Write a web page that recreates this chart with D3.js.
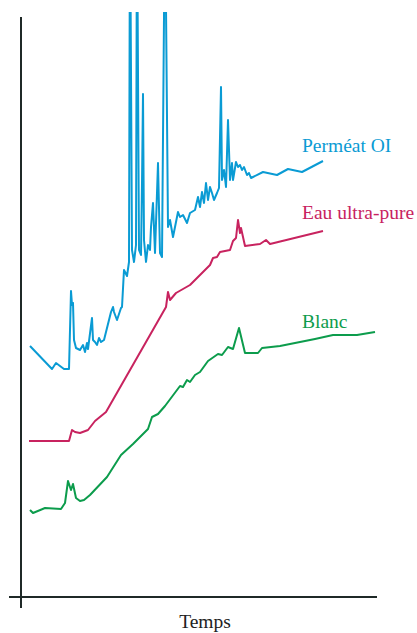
<!DOCTYPE html>
<html>
<head>
    <meta charset="utf-8">
    <script src="https://d3js.org/d3.v7.min.js"></script>
    <style>
        html, body { margin: 0; padding: 0; background: #fff; }
        svg { display: block; }
    </style>
</head>
<body>
    <script>
        const width = 417;
        const height = 633;

        // time (arbitrary units), signal (arbitrary units)
        const permeatOI = [
            [9, 251], [31, 228], [35, 234], [43, 228], [48, 228], [50, 306], [51, 292], [52, 294],
            [53, 257], [55, 249], [59, 247], [62, 252], [64, 245], [66, 254], [67, 248], [71, 279],
            [72, 257], [74, 255], [76, 252], [78, 259], [80, 255], [83, 257], [85, 265], [90, 285],
            [92, 290], [93, 285], [96, 277], [100, 289], [101, 290], [103, 327], [106, 321], [108, 335],
            [109, 700], [111, 347], [113, 335], [115, 352], [116, 700], [118, 347], [120, 342], [121, 414],
            [122, 503], [123, 357], [125, 335], [127, 352], [129, 347], [130, 370], [132, 394], [134, 344],
            [137, 434], [139, 344], [141, 340], [144, 700], [147, 370], [149, 377], [152, 360], [157, 385],
            [159, 380], [162, 382], [166, 374], [169, 384], [174, 387], [177, 400], [179, 390], [181, 405],
            [183, 394], [185, 414], [187, 397], [189, 410], [191, 404], [193, 397], [196, 404], [198, 409],
            [200, 510], [201, 417], [203, 427], [205, 410], [207, 477], [209, 417], [211, 434], [212, 417],
            [215, 435], [217, 430], [219, 432], [221, 427], [223, 430], [226, 422], [228, 424], [230, 419],
            [232, 420], [242, 425], [256, 422], [267, 428], [281, 425], [302, 436]
        ];

        const eauUltraPure = [
            [8, 156], [48, 156], [51, 167], [54, 165], [59, 164], [67, 167], [74, 176], [85, 185],
            [145, 290], [147, 305], [149, 297], [155, 304], [169, 312], [179, 322], [189, 332], [192, 339],
            [196, 340], [199, 345], [209, 347], [212, 356], [215, 359], [217, 377], [219, 364], [220, 369],
            [224, 351], [239, 353], [245, 357], [249, 353], [302, 366]
        ];

        const blanc = [
            [9, 87], [12, 84], [24, 89], [40, 88], [44, 94], [47, 116], [50, 107], [52, 113],
            [55, 99], [59, 96], [63, 97], [69, 102], [86, 120], [100, 142], [112, 153], [127, 168],
            [131, 180], [137, 183], [144, 191], [153, 203], [159, 211], [162, 210], [166, 217], [169, 215],
            [174, 222], [179, 225], [187, 236], [197, 243], [201, 242], [207, 250], [212, 248], [218, 269],
            [224, 244], [237, 244], [241, 249], [259, 251], [294, 258], [312, 262], [336, 262], [354, 265]
        ];

        const seriesNames = ['Perméat OI', 'Eau ultra-pure', 'Blanc'];
        const seriesColors = ['#0a9bd4', '#c8235f', '#0c9c4c'];
        const xLabel = 'Temps';

        const series = [permeatOI, eauUltraPure, blanc];

        const x = d3.scaleLinear().domain([0, 356]).range([21, 377]);
        const y = d3.scaleLinear().domain([0, 580]).range([597, 17]);

        const svg = d3.select('body').append('svg')
            .attr('width', width)
            .attr('height', height);

        svg.append('clipPath').attr('id', 'clip')
            .append('rect')
            .attr('x', 0).attr('y', 12)
            .attr('width', width).attr('height', height - 12);

        // axes, no ticks
        const axisColor = '#1f2927';
        svg.append('line')
            .attr('x1', x(0)).attr('x2', x(0))
            .attr('y1', y(580)).attr('y2', y(-11))
            .attr('stroke', axisColor).attr('stroke-width', 2);
        svg.append('line')
            .attr('x1', x(-12)).attr('x2', x(356))
            .attr('y1', y(0)).attr('y2', y(0))
            .attr('stroke', axisColor).attr('stroke-width', 2);

        const line = d3.line()
            .x(d => x(d[0]))
            .y(d => y(d[1]));

        svg.append('g')
            .attr('clip-path', 'url(#clip)')
            .selectAll('path')
            .data(series)
            .join('path')
            .attr('d', line)
            .attr('fill', 'none')
            .attr('stroke', (d, i) => seriesColors[i])
            .attr('stroke-width', 2)
            .attr('stroke-linejoin', 'round');

        // labels next to the lines
        const labelPos = [[281, 445], [281, 378], [281, 269]];
        svg.selectAll('text.lab')
            .data(seriesNames)
            .join('text')
            .attr('class', 'lab')
            .attr('x', (d, i) => x(labelPos[i][0]))
            .attr('y', (d, i) => y(labelPos[i][1]))
            .attr('fill', (d, i) => seriesColors[i])
            .attr('font-family', '"Liberation Serif", "DejaVu Serif", serif')
            .attr('font-size', 19.5)
            .text(d => d);

        svg.append('text')
            .attr('x', 205)
            .attr('y', 628)
            .attr('text-anchor', 'middle')
            .attr('fill', '#222')
            .attr('font-family', '"Liberation Serif", "DejaVu Serif", serif')
            .attr('font-size', 19.5)
            .text(xLabel);
    </script>
</body>
</html>
